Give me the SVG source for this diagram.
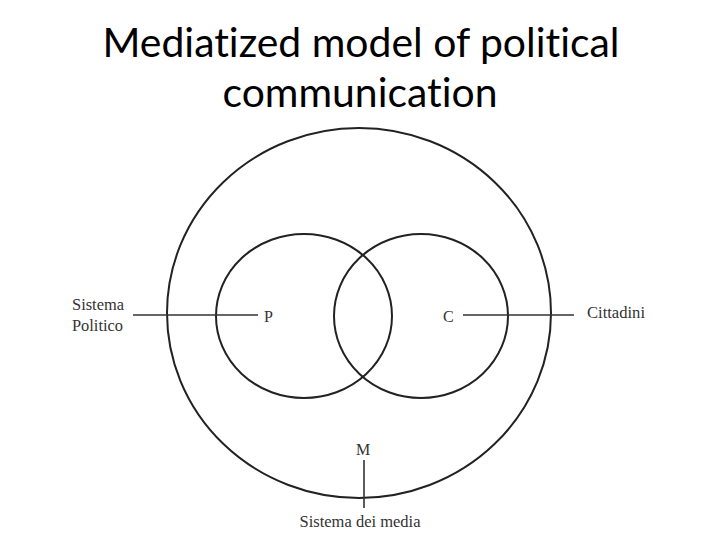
<svg xmlns="http://www.w3.org/2000/svg" width="720" height="540" viewBox="0 0 720 540">
<style>
.title{font-family:Lato,"Open Sans","Liberation Sans",sans-serif;font-size:40px;fill:#000;text-anchor:middle;font-variant-ligatures:none;font-feature-settings:"liga" 0,"dlig" 0}
.lbl{font-family:"Liberation Serif","DejaVu Serif",serif;font-size:16px;fill:#333}
.c{fill:none;stroke:#222;stroke-width:2}
.ln{stroke:#333;stroke-width:1.6;fill:none}
</style>
<rect width="720" height="540" fill="#fff"/>
<g id="title">
<text class="title" x="361" y="57" textLength="517" lengthAdjust="spacingAndGlyphs">Mediatized model of political</text>
<text class="title" x="360" y="107" textLength="275" lengthAdjust="spacingAndGlyphs">communication</text>
</g>
<g id="M-media">
<ellipse class="c" cx="359" cy="313" rx="192" ry="185"/>
<text class="lbl" x="363" y="455" text-anchor="middle">M</text>
<text class="lbl" x="360" y="527" text-anchor="middle" textLength="121" lengthAdjust="spacingAndGlyphs">Sistema dei media</text>
</g>
<g id="P-politico">
<ellipse class="c" cx="304" cy="316" rx="88" ry="82"/>
<text class="lbl" x="264" y="322">P</text>
<text class="lbl" x="72" y="310" textLength="52" lengthAdjust="spacingAndGlyphs">Sistema</text>
<text class="lbl" x="72" y="331" textLength="51" lengthAdjust="spacingAndGlyphs">Politico</text>
</g>
<g id="C-cittadini">
<ellipse class="c" cx="421" cy="316" rx="87" ry="82"/>
<text class="lbl" x="443" y="322">C</text>
<text class="lbl" x="587" y="318" textLength="58" lengthAdjust="spacingAndGlyphs">Cittadini</text>
</g>
<g id="connectors">
<line class="ln" x1="133" y1="315" x2="258" y2="315"/>
<line class="ln" x1="463" y1="315" x2="574" y2="315"/>
<line class="ln" x1="364" y1="460" x2="364" y2="508"/>
</g>
</svg>
